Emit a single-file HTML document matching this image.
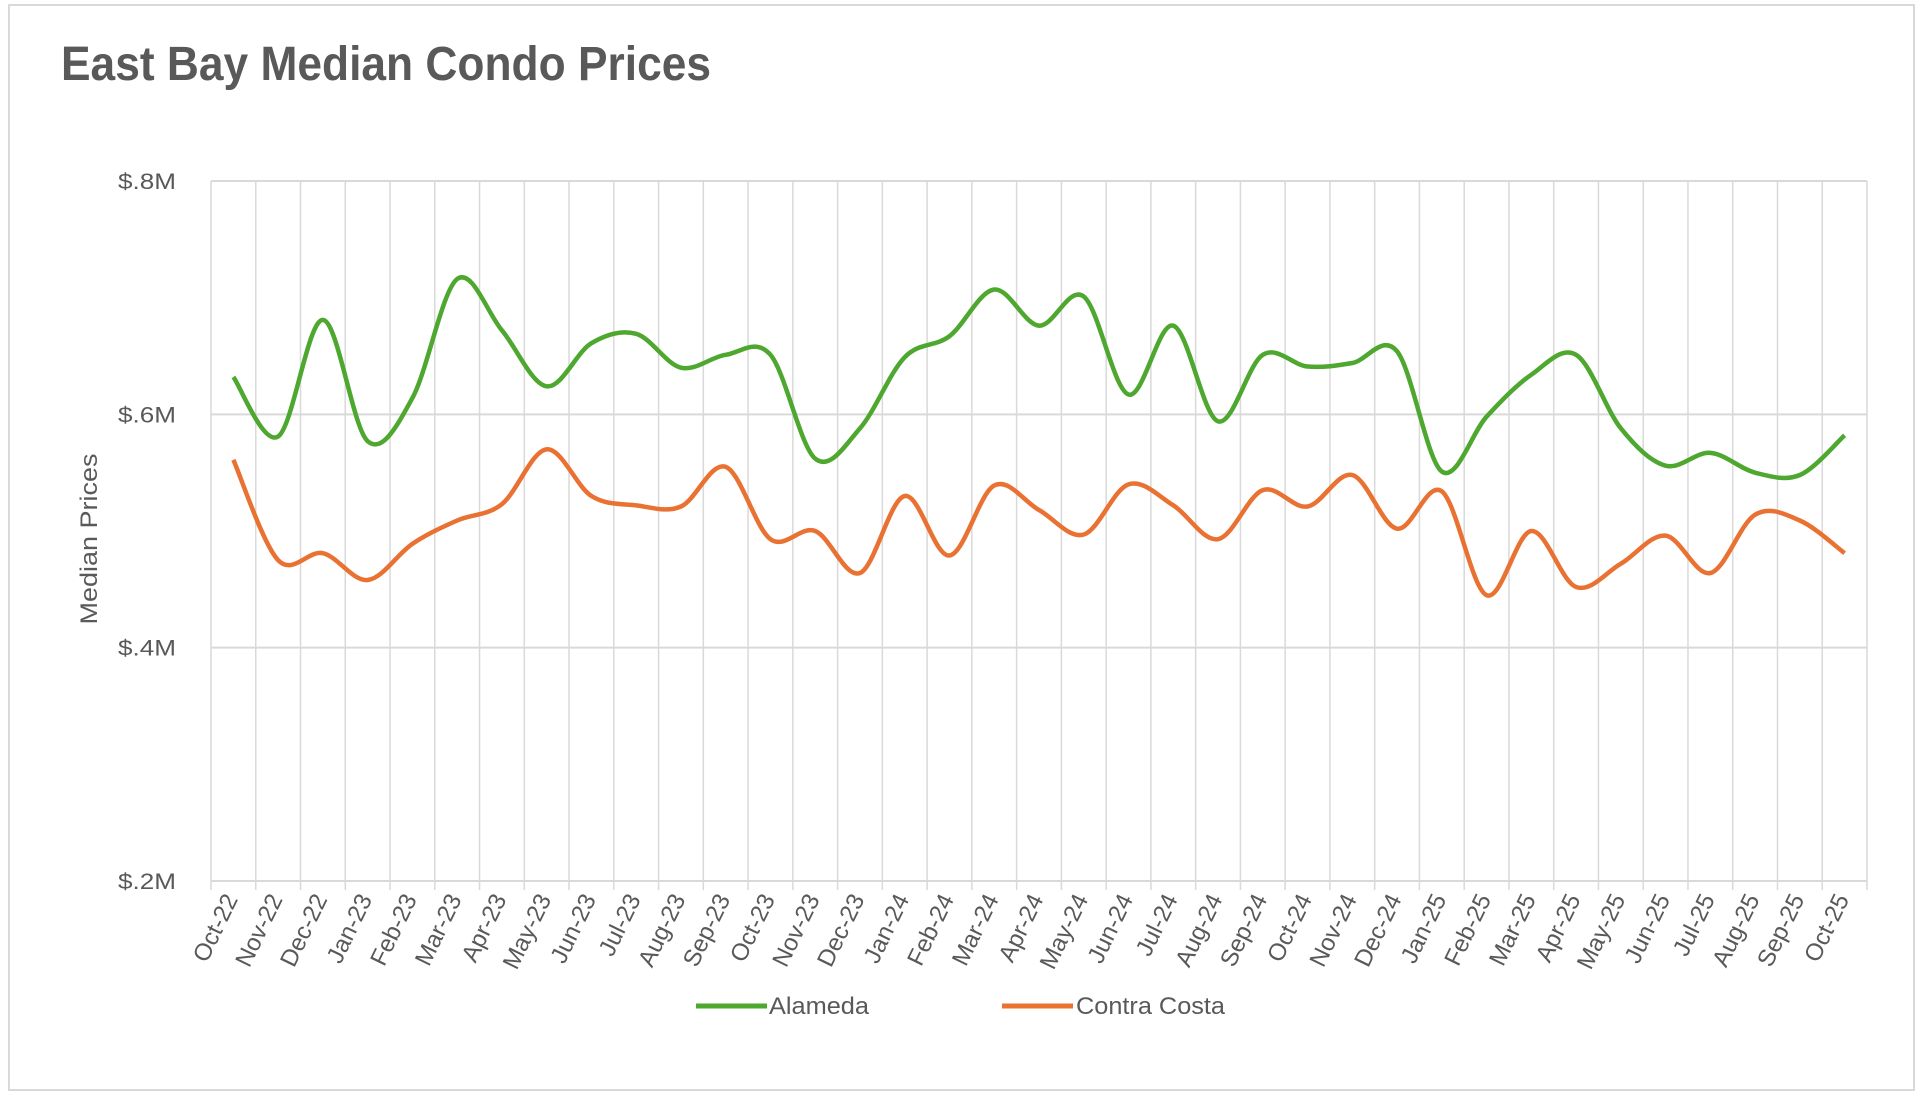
<!DOCTYPE html>
<html><head><meta charset="utf-8"><style>
html,body{margin:0;padding:0;background:#fff;}
svg text{font-family:"Liberation Sans",Arial,sans-serif;fill:#595959;}
</style></head><body>
<svg id="chart" width="1920" height="1099" viewBox="0 0 1920 1099" xmlns="http://www.w3.org/2000/svg">
<rect x="9" y="5" width="1905" height="1085" fill="#fff" stroke="#d9d9d9" stroke-width="2"/>
<text x="61" y="80" font-size="48" font-weight="bold" textLength="650" lengthAdjust="spacingAndGlyphs">East Bay Median Condo Prices</text>
<text transform="translate(97,539) rotate(-90)" text-anchor="middle" font-size="24" textLength="171" lengthAdjust="spacingAndGlyphs">Median Prices</text>
<g id="grid"></g>
<g id="yticks"></g>
<g id="xticks"></g>
<g id="series"></g>
<g>
<g>
<line x1="696" y1="1006" x2="767" y2="1006" stroke="#4ea72e" stroke-width="5"/>
<text x="769" y="1014" font-size="24" textLength="100" lengthAdjust="spacingAndGlyphs">Alameda</text>
</g>
<g>
<line x1="1002" y1="1006" x2="1073" y2="1006" stroke="#e97132" stroke-width="5"/>
<text x="1076" y="1014" font-size="24" textLength="149" lengthAdjust="spacingAndGlyphs">Contra Costa</text>
</g>
</g>
</svg>
<script>
const months = ["Oct-22","Nov-22","Dec-22","Jan-23","Feb-23","Mar-23","Apr-23","May-23","Jun-23","Jul-23","Aug-23","Sep-23","Oct-23","Nov-23","Dec-23","Jan-24","Feb-24","Mar-24","Apr-24","May-24","Jun-24","Jul-24","Aug-24","Sep-24","Oct-24","Nov-24","Dec-24","Jan-25","Feb-25","Mar-25","Apr-25","May-25","Jun-25","Jul-25","Aug-25","Sep-25","Oct-25"];
const alameda = [0.632,0.581,0.681,0.577,0.614,0.716,0.672,0.624,0.661,0.669,0.640,0.651,0.651,0.562,0.588,0.649,0.667,0.707,0.676,0.701,0.617,0.676,0.594,0.651,0.641,0.644,0.654,0.551,0.598,0.634,0.651,0.588,0.556,0.567,0.550,0.548,0.582];
const contraCosta = [0.561,0.475,0.481,0.458,0.489,0.509,0.523,0.570,0.530,0.522,0.521,0.555,0.493,0.500,0.464,0.530,0.479,0.539,0.518,0.497,0.540,0.522,0.493,0.535,0.521,0.548,0.502,0.534,0.445,0.500,0.452,0.472,0.496,0.464,0.514,0.509,0.481];
const yTickValues = [0.2,0.4,0.6,0.8];
const yTickLabels = ["$.2M","$.4M","$.6M","$.8M"];

const NS="http://www.w3.org/2000/svg";
const L=211,R=1867,T=181,B=881,ymin=0.2,ymax=0.8;
const band=(R-L)/months.length;
function xScale(i){return L+band*(i+0.5);}
function yScale(v){return B-(v-ymin)/(ymax-ymin)*(B-T);}
function mk(tag,attrs,parent){const e=document.createElementNS(NS,tag);for(const k in attrs)e.setAttribute(k,attrs[k]);parent.appendChild(e);return e;}
const grid=document.getElementById('grid'),yt=document.getElementById('yticks'),xt=document.getElementById('xticks'),ser=document.getElementById('series');
for(let i=0;i<=months.length;i++){
  const x=L+band*i;
  const ln=mk('line',{x1:x,y1:T,x2:x,y2:B+9,stroke:'#d9d9d9','stroke-width':1.5},grid);
  
  
}
yTickValues.forEach((v,i)=>{
  const y=yScale(v);
  const ln=mk('line',{x1:L,y1:y,x2:R,y2:y,stroke:'#d9d9d9','stroke-width':2},grid);
  
  
  const t=mk('text',{x:176,y:y+8,'text-anchor':'end','font-size':22,textLength:58,lengthAdjust:'spacingAndGlyphs'},yt);
  t.textContent=yTickLabels[i];
  
  
});
months.forEach((m,i)=>{
  const x=xScale(i)+5;
  const t=mk('text',{transform:`translate(${x},899) rotate(-64)`,'text-anchor':'end','font-size':24},xt);
  t.textContent=m;
  
  
});
function smoothPath(vals){
  const p=vals.map((v,i)=>[xScale(i),yScale(v)]);
  let d=`M${p[0][0]},${p[0][1]}`;
  for(let i=0;i<p.length-1;i++){
    const p0=p[i-1]||p[i],p1=p[i],p2=p[i+1],p3=p[i+2]||p2;
    const c1=[p1[0]+(p2[0]-p0[0])/6,p1[1]+(p2[1]-p0[1])/6];
    const c2=[p2[0]-(p3[0]-p1[0])/6,p2[1]-(p3[1]-p1[1])/6];
    d+=` C${c1[0]},${c1[1]} ${c2[0]},${c2[1]} ${p2[0]},${p2[1]}`;
  }
  return d;
}
const a=mk('path',{d:smoothPath(alameda),fill:'none',stroke:'#4ea72e','stroke-width':4.5,'stroke-linejoin':'round'},ser);


const c=mk('path',{d:smoothPath(contraCosta),fill:'none',stroke:'#e97132','stroke-width':4.5,'stroke-linejoin':'round'},ser);


</script>
</body></html>
